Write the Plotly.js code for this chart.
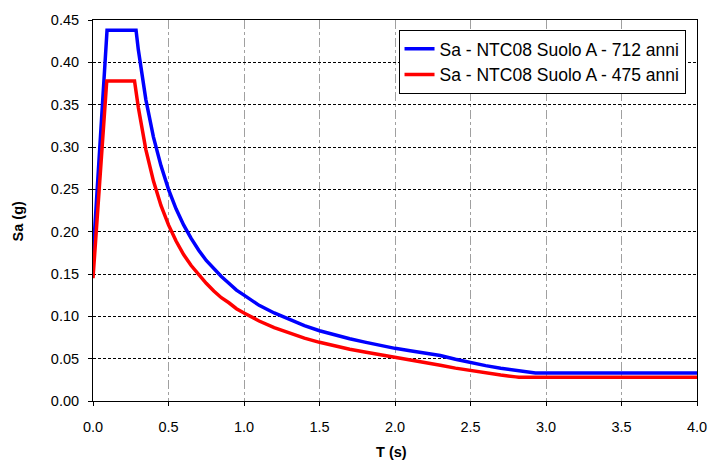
<!DOCTYPE html>
<html>
<head>
<meta charset="utf-8">
<script src="https://cdn.plot.ly/plotly-3.0.1.min.js"></script>
<style>html,body{margin:0;padding:0;background:#fff;}#chart{width:708px;height:460px;}</style>
</head>
<body>
<div id="chart"></div>
<script>
// Periods (s) and spectral accelerations (g)
const T712 = [0, 0.093, 0.285, 0.30, 0.35, 0.40, 0.45, 0.50, 0.55, 0.60, 0.65, 0.70, 0.75, 0.80, 0.85, 0.90, 0.95, 1.0, 1.1, 1.2, 1.3, 1.4, 1.5, 1.6, 1.7, 1.8, 1.9, 2.0, 2.1, 2.2, 2.3, 2.4, 2.5, 2.6, 2.7, 2.8, 2.9, 2.93, 3.0, 3.5, 4.0];
const Sa712 = [0.170, 0.438, 0.438, 0.415, 0.356, 0.312, 0.278, 0.250, 0.227, 0.208, 0.192, 0.178, 0.166, 0.156, 0.147, 0.139, 0.131, 0.125, 0.113, 0.104, 0.096, 0.089, 0.083, 0.078, 0.0735, 0.0695, 0.0657, 0.0622, 0.0593, 0.0566, 0.0538, 0.0493, 0.0452, 0.0418, 0.0388, 0.0362, 0.0337, 0.033, 0.033, 0.033, 0.033];
const T475 = [0, 0.091, 0.275, 0.30, 0.35, 0.40, 0.45, 0.50, 0.55, 0.60, 0.65, 0.70, 0.75, 0.80, 0.85, 0.90, 0.95, 1.0, 1.1, 1.2, 1.3, 1.4, 1.5, 1.6, 1.7, 1.8, 1.9, 2.0, 2.1, 2.2, 2.3, 2.4, 2.5, 2.6, 2.7, 2.8, 2.82, 3.0, 3.5, 4.0];
const Sa475 = [0.145, 0.378, 0.378, 0.347, 0.297, 0.260, 0.231, 0.208, 0.189, 0.173, 0.160, 0.149, 0.139, 0.130, 0.122, 0.116, 0.109, 0.104, 0.0945, 0.0867, 0.080, 0.0743, 0.0693, 0.065, 0.0612, 0.0578, 0.0547, 0.052, 0.0495, 0.0462, 0.0423, 0.0388, 0.0358, 0.0331, 0.0307, 0.0285, 0.028, 0.028, 0.028, 0.028];
const seriesNames = ["Sa - NTC08 Suolo A - 712 anni", "Sa - NTC08 Suolo A - 475 anni"];
const xTitle = "T (s)";
const yTitle = "Sa (g)";

const fontFam = "Liberation Sans, Arial, sans-serif";
const traces = [
  {x: T712, y: Sa712, name: seriesNames[0], mode: "lines", line: {color: "#0000FF", width: 3.5}},
  {x: T475, y: Sa475, name: seriesNames[1], mode: "lines", line: {color: "#FF0000", width: 3.5}}
];
const layout = {
  width: 708, height: 460,
  margin: {l: 92.6, r: 11, t: 20, b: 59},
  paper_bgcolor: "#fff", plot_bgcolor: "#fff",
  font: {family: fontFam, color: "#000", size: 14.5},
  showlegend: true,
  legend: {x: 0.981, y: 0.974, xanchor: "right", yanchor: "top", bgcolor: "#fff",
           bordercolor: "#000", borderwidth: 1, font: {size: 17.5, family: fontFam}},
  xaxis: {range: [0, 4], dtick: 0.5, tick0: 0, tickformat: ".1f", showline: true, mirror: true,
          linecolor: "#000", linewidth: 1, ticks: "outside", ticklen: 4, tickcolor: "#000",
          ticklabelstandoff: 9,
          showgrid: true, gridcolor: "#a0a0a0", griddash: "dashdot", gridwidth: 1, zeroline: false,
          fixedrange: true},
  yaxis: {range: [0, 0.45], dtick: 0.05, tick0: 0, tickformat: ".2f", showline: true, mirror: true,
          linecolor: "#000", linewidth: 1, ticks: "outside", ticklen: 4, tickcolor: "#000",
          ticklabelstandoff: 6,
          showgrid: true, gridcolor: "#000", griddash: "3px,2px", gridwidth: 1, zeroline: false,
          fixedrange: true},
  annotations: [
    {text: "<b>" + xTitle + "</b>", xref: "paper", yref: "paper", x: 0.495, y: -0.134,
     showarrow: false, font: {size: 14.5, family: fontFam}, xanchor: "center", yanchor: "middle"},
    {text: "<b>" + yTitle + "</b>", xref: "paper", yref: "paper", x: -0.125, y: 0.47,
     xanchor: "center", yanchor: "middle", textangle: -90, showarrow: false, font: {size: 14.5, family: fontFam}}
  ]
};
Plotly.newPlot("chart", traces, layout, {displayModeBar: false, staticPlot: true});
</script>
</body>
</html>
